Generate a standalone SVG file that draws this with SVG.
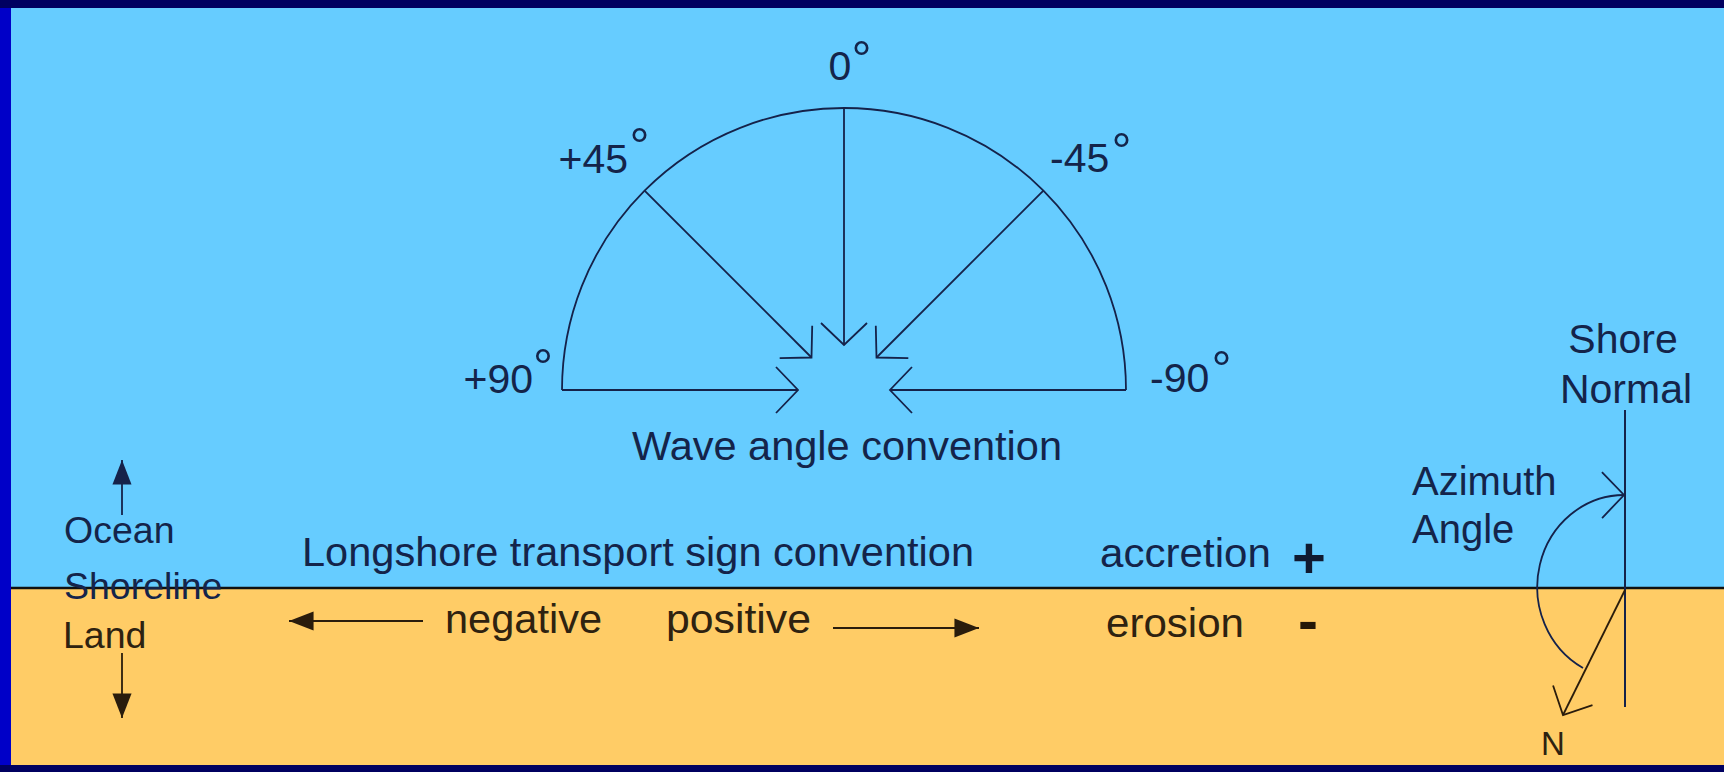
<svg xmlns="http://www.w3.org/2000/svg" width="1724" height="772" viewBox="0 0 1724 772">
<style>
.t{font-family:"Liberation Sans",Arial,sans-serif;font-size:41px;fill:#14244a}
.ts{font-family:"Liberation Sans",Arial,sans-serif;font-size:41px;fill:#2e2210}
.deg{font-size:50px}
.ln{fill:none;stroke:#15224a;stroke-width:1.8}
.lb{fill:none;stroke:#2a1c0c;stroke-width:1.8}
</style>
<defs>
<marker id="open" markerUnits="userSpaceOnUse" markerWidth="60" markerHeight="60" viewBox="-30 -30 60 60" refX="0" refY="0" orient="auto">
<path d="M-22,-23 L0,0 L-22,23" fill="none" stroke="#15224a" stroke-width="1.8"/>
</marker>
<marker id="openb" markerUnits="userSpaceOnUse" markerWidth="60" markerHeight="60" viewBox="-30 -30 60 60" refX="0" refY="0" orient="auto">
<path d="M-22,-22 L0,0 L-22,22" fill="none" stroke="#2a1c0c" stroke-width="1.8"/>
</marker>
<marker id="solidB" markerUnits="userSpaceOnUse" markerWidth="30" markerHeight="30" viewBox="-20 -10 22 20" refX="0" refY="0" orient="auto">
<path d="M0,0 L-18,-7 L-18,7 Z" fill="#15224a"/>
</marker>
<marker id="solidS" markerUnits="userSpaceOnUse" markerWidth="30" markerHeight="30" viewBox="-20 -10 22 20" refX="0" refY="0" orient="auto">
<path d="M0,0 L-18,-7 L-18,7 Z" fill="#2a1c0c"/>
</marker>
</defs>

<g id="background">
<rect x="0" y="0" width="1724" height="772" fill="#000060"/>
<rect x="0" y="8" width="11" height="757" fill="#0000c8"/>
<rect x="11" y="8" width="1713" height="580" fill="#66ccff"/>
<rect x="11" y="588" width="1713" height="177" fill="#ffcc66"/>
</g>

<g id="connectors">
<line id="shoreline" x1="11" y1="588" x2="1724" y2="588" stroke="#101010" stroke-width="2.5"/>
<path id="semicircle" class="ln" d="M562,390 A282,282 0 0 1 1126,390"/>
<line class="ln" x1="844" y1="108" x2="844" y2="345" marker-end="url(#open)"/>
<line class="ln" x1="644.6" y1="190.6" x2="811.5" y2="357.5" marker-end="url(#open)"/>
<line class="ln" x1="1043.4" y1="190.6" x2="876.5" y2="357.5" marker-end="url(#open)"/>
<line class="ln" x1="562" y1="390" x2="798" y2="390" marker-end="url(#open)"/>
<line class="ln" x1="1126" y1="390" x2="890" y2="390" marker-end="url(#open)"/>
<line class="ln" x1="122" y1="515" x2="122" y2="460" marker-end="url(#solidB)"/>
<line class="lb" x1="122" y1="653" x2="122" y2="718" marker-end="url(#solidS)"/>
<line class="lb" x1="423" y1="621" x2="289" y2="621" marker-end="url(#solidS)"/>
<line class="lb" x1="833" y1="628" x2="979" y2="628" marker-end="url(#solidS)"/>
<line id="shore-normal" x1="1625" y1="410" x2="1625" y2="707" stroke="#15224a" stroke-width="2"/>
<line class="lb" x1="1625" y1="590" x2="1563" y2="715" marker-end="url(#openb)"/>
<path class="ln" d="M1583,668 A87,92 0 0 1 1624,495" marker-end="url(#open)"/>
</g>

<g id="label-0"><text class="t" x="828.5" y="80">0<tspan class="deg" x="851.5" y="75.5">°</tspan></text></g>
<g id="label-p45"><text class="t" x="558.5" y="173">+45<tspan class="deg" x="629.5" y="162.5">°</tspan></text></g>
<g id="label-m45"><text class="t" x="1050" y="172">-45<tspan class="deg" x="1111.5" y="167.5">°</tspan></text></g>
<g id="label-p90"><text class="t" x="463.5" y="393">+90<tspan class="deg" x="533" y="383.5">°</tspan></text></g>
<g id="label-m90"><text class="t" x="1150" y="392">-90<tspan class="deg" x="1211.5" y="385.5">°</tspan></text></g>
<g id="wave-title"><text class="t" x="632" y="460" textLength="430" lengthAdjust="spacingAndGlyphs">Wave angle convention</text></g>
<g id="longshore-title"><text class="t" x="302" y="566" textLength="672" lengthAdjust="spacingAndGlyphs">Longshore transport sign convention</text></g>
<g id="ocean"><text class="t" x="64" y="543" style="font-size:37.5px">Ocean</text></g>
<g id="shoreline-label"><text class="t" x="64" y="599" style="font-size:37.5px">Shoreline</text></g>
<g id="land"><text class="ts" x="63" y="648" style="font-size:37.5px">Land</text></g>
<g id="negative"><text class="ts" x="445" y="633" textLength="157" lengthAdjust="spacingAndGlyphs">negative</text></g>
<g id="positive"><text class="ts" x="666" y="633" textLength="145" lengthAdjust="spacingAndGlyphs">positive</text></g>
<g id="accretion"><text class="t" x="1100" y="567" textLength="171" lengthAdjust="spacingAndGlyphs">accretion</text><text class="t" x="1292" y="578" style="font-size:58px;font-weight:bold;fill:#101a30">+</text></g>
<g id="erosion"><text class="ts" x="1106" y="637" textLength="138" lengthAdjust="spacingAndGlyphs">erosion</text><text class="ts" x="1298" y="641" style="font-size:60px;font-weight:bold;fill:#241808">-</text></g>
<g id="shore-normal-label"><text class="t" x="1623" y="353" text-anchor="middle">Shore</text><text class="t" x="1626" y="403" text-anchor="middle">Normal</text></g>
<g id="azimuth-label"><text class="t" x="1412" y="495" style="font-size:40px">Azimuth</text><text class="t" x="1412" y="543" style="font-size:40px">Angle</text></g>
<g id="north"><text class="ts" x="1541" y="755" style="font-size:33px">N</text></g>
</svg>
